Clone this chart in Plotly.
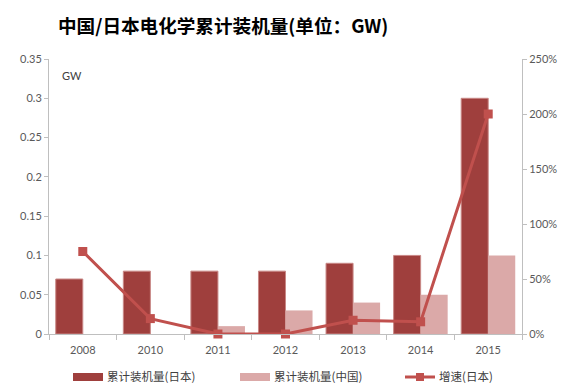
import plotly.graph_objects as go

years = ["2008", "2010", "2011", "2012", "2013", "2014", "2015"]
japan = [0.07, 0.08, 0.08, 0.08, 0.09, 0.10, 0.30]
china = [0.0, 0.0, 0.01, 0.03, 0.04, 0.05, 0.10]
growth = [0.75, 0.14, 0.0, 0.0, 0.125, 0.111, 2.0]

name_jp = "累计装机量(日本)"
name_cn = "累计装机量(中国)"
name_gr = "增速(日本)"

c_jp = "#9F3F3D"
c_cn = "#DBA9A8"
c_gr = "#C0504D"

# page body has an 8px margin; work in screen pixels and offset
OFF = 8
SW, SH = 569, 391
W, H = SW - 2 * OFF, SH - 2 * OFF
# plot area in screen pixels
X0, X1, Y0, Y1 = 49, 522, 59, 334
L, R, T, B = X0 - OFF, W - (X1 - OFF), Y0 - OFF, H - (Y1 - OFF)
PW, PH = X1 - X0, Y1 - Y0


def px(x):
    return (x - X0) / PW


def py(y):
    return (Y1 - y) / PH


fig = go.Figure()
fig.add_trace(go.Bar(x=years, y=japan, name=name_jp, showlegend=False,
                     marker=dict(color=c_jp, line=dict(color="#C98886", width=1))))
fig.add_trace(go.Bar(x=years, y=china, name=name_cn, showlegend=False,
                     marker=dict(color=c_cn, line=dict(width=0))))
fig.add_trace(go.Scatter(x=years, y=growth, name=name_gr, yaxis="y2", mode="lines+markers",
                         showlegend=False,
                         line=dict(color=c_gr, width=3),
                         marker=dict(symbol="square", size=9, color=c_gr),
                         cliponaxis=False))

axis_col = "#BFBFBF"
tick_font = dict(family="Lato, Liberation Sans, sans-serif", size=11, color="#595959")
leg_font = dict(family="Noto Sans CJK SC", size=11.5, color="#404040")

# legend (drawn manually to match wide swatches)
ly = 377
ty = 375.5
shapes = [
    dict(type="rect", xref="paper", yref="paper", x0=px(73), x1=px(103),
         y0=py(ly + 4), y1=py(ly - 4), fillcolor=c_jp, line=dict(width=0)),
    dict(type="rect", xref="paper", yref="paper", x0=px(240), x1=px(270),
         y0=py(ly + 4), y1=py(ly - 4), fillcolor=c_cn, line=dict(width=0)),
    dict(type="line", xref="paper", yref="paper", x0=px(405), x1=px(435),
         y0=py(ly), y1=py(ly), line=dict(color=c_gr, width=3)),
    dict(type="rect", xref="paper", yref="paper", x0=px(416), x1=px(424),
         y0=py(ly + 4), y1=py(ly - 4), fillcolor=c_gr, line=dict(width=0)),
]
annotations = [
    dict(text=name_jp, x=px(105), y=py(ty)),
    dict(text=name_cn, x=px(272), y=py(ty)),
    dict(text=name_gr, x=px(437), y=py(ty)),
]
annotations = [dict(a, xref="paper", yref="paper", xanchor="left", yanchor="middle",
                    showarrow=False, font=leg_font) for a in annotations]

annotations += [
    dict(text="<b>中国/日本电化学累计装机量(单位：GW)</b>", xref="paper", yref="paper",
         x=px(56), y=py(8.5), xanchor="left", yanchor="top", showarrow=False,
         font=dict(family="Noto Sans CJK SC", size=18.6, color="#000000")),
    dict(text="GW", xref="paper", yref="paper", x=px(60), y=py(76),
         xanchor="left", yanchor="middle", showarrow=False,
         font=dict(family="Lato, Liberation Sans, sans-serif", size=11, color="#404040")),
]

fig.update_layout(
    width=W, height=H,
    margin=dict(l=L, r=R, t=T, b=B),
    paper_bgcolor="white", plot_bgcolor="white",
    barmode="group", bargap=0.2, bargroupgap=0,
    showlegend=False,
    xaxis=dict(type="category", showline=True, linecolor=axis_col, linewidth=1,
               ticks="outside", tickson="boundaries", ticklen=5, tickcolor=axis_col,
               tickfont=tick_font, showgrid=False, automargin=False, ticklabelstandoff=6),
    yaxis=dict(range=[0, 0.35], dtick=0.05, showline=True, linecolor=axis_col,
               ticks="outside", ticklen=4, tickcolor=axis_col, showgrid=False,
               zeroline=False, tickfont=tick_font, automargin=False),
    yaxis2=dict(range=[0, 2.5], dtick=0.5, tickformat=".0%", overlaying="y", side="right",
                showline=True, linecolor=axis_col, ticks="outside", ticklen=4,
                tickcolor=axis_col, showgrid=False, zeroline=False, tickfont=tick_font,
                automargin=False),
    shapes=shapes,
    annotations=annotations,
)

fig.write_html("out.html")
